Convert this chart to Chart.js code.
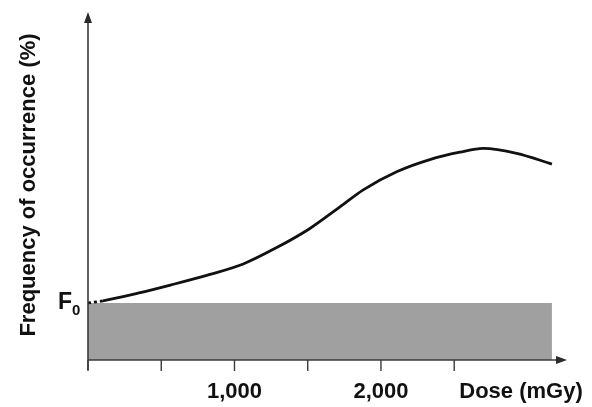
<!DOCTYPE html>
<html>
<head>
<meta charset="utf-8">
<script src="https://cdn.jsdelivr.net/npm/chart.js@4/dist/chart.umd.min.js"></script>
<style>
  html, body { margin: 0; padding: 0; background: #fff; }
  #wrap { width: 592px; height: 407px; }
</style>
</head>
<body>
<div id="wrap"><canvas id="grafica"></canvas></div>
<script>
// dosis (mGy) y frecuencia (%)
const dosis = [0, 102, 341, 569, 833, 1060, 1288, 1515, 1720, 1879, 2107, 2334, 2539, 2698, 2926, 3167];
const frecuencia = [16.4, 17.0, 19.2, 21.6, 24.6, 27.6, 32.3, 37.8, 44.0, 48.9, 54.1, 57.6, 59.7, 60.8, 59.4, 56.3];
const nivelF0 = 16.4;
const rangoFondo = [0, 3167];
const marcasX = [0, 500, 1000, 1500, 2000, 2500];
const etiquetasX = { 1000: '1,000', 2000: '2,000' };

const fuente = '"Liberation Sans", Arial, sans-serif';

const ejes = {
    id: 'ejes',
    afterDatasetsDraw(chart) {
        const c = chart.ctx;
        const x = chart.scales.x;
        const y = chart.scales.y;
        const x0 = x.getPixelForValue(0);
        const y0 = y.getPixelForValue(0);
        const xFin = chart.chartArea.right;
        const yFin = chart.chartArea.top;
        c.save();
        c.strokeStyle = '#3a3a3a';
        c.fillStyle = '#2a2a2a';
        c.lineWidth = 1.6;
        // eje y
        c.beginPath();
        c.moveTo(x0, y0 + 10);
        c.lineTo(x0, yFin + 8);
        c.stroke();
        c.beginPath();
        c.moveTo(x0, yFin);
        c.lineTo(x0 - 4, yFin + 11);
        c.lineTo(x0 + 4, yFin + 11);
        c.closePath();
        c.fill();
        // eje x
        c.beginPath();
        c.moveTo(x0, y0);
        c.lineTo(xFin - 8, y0);
        c.stroke();
        c.beginPath();
        c.moveTo(xFin, y0);
        c.lineTo(xFin - 11, y0 - 4);
        c.lineTo(xFin - 11, y0 + 4);
        c.closePath();
        c.fill();
        // marcas
        c.lineWidth = 1.4;
        marcasX.forEach(v => {
            const px = x.getPixelForValue(v);
            c.beginPath();
            c.moveTo(px, y0);
            c.lineTo(px, y0 + 11);
            c.stroke();
        });
        // textos
        c.fillStyle = '#111';
        c.font = 'bold 22px ' + fuente;
        c.textAlign = 'center';
        c.textBaseline = 'alphabetic';
        Object.keys(etiquetasX).forEach(k => {
            c.fillText(etiquetasX[k], x.getPixelForValue(Number(k)), 398);
        });
        c.fillText('Dose (mGy)', 521, 398);
        // F0
        const yF = y.getPixelForValue(nivelF0);
        c.textAlign = 'left';
        c.font = 'bold 23px ' + fuente;
        c.fillText('F', 58, yF + 6);
        c.font = 'bold 15px ' + fuente;
        c.fillText('0', 72, yF + 12);
        // titulo y
        c.font = 'bold 22px ' + fuente;
        c.translate(35, 185);
        c.rotate(-Math.PI / 2);
        c.textAlign = 'center';
        c.fillText('Frequency of occurrence (%)', 0, 0);
        c.restore();
    }
};

new Chart(document.getElementById('grafica').getContext('2d'), {
    type: 'line',
    data: {
        datasets: [
            {
                label: 'Fondo',
                data: rangoFondo.map(d => ({ x: d, y: nivelF0 })),
                borderWidth: 0,
                pointRadius: 0,
                backgroundColor: '#a0a0a0',
                fill: 'origin',
                order: 2
            },
            {
                label: 'Frecuencia',
                data: dosis.map((d, i) => ({ x: d, y: frecuencia[i] })),
                borderColor: '#111',
                borderWidth: 2.8,
                pointRadius: 0,
                fill: false,
                cubicInterpolationMode: 'monotone',
                segment: {
                    borderDash: ctx => ctx.p0DataIndex === 0 ? [3, 3] : undefined
                },
                order: 1
            }
        ]
    },
    options: {
        responsive: true,
        maintainAspectRatio: false,
        animation: false,
        layout: { padding: { left: 88, right: 25, top: 12, bottom: 47 } },
        plugins: { legend: { display: false }, tooltip: { enabled: false } },
        scales: {
            x: { type: 'linear', min: 0, max: 3270, display: false },
            y: { min: 0, max: 100, display: false }
        }
    },
    plugins: [ejes]
});
</script>
</body>
</html>
